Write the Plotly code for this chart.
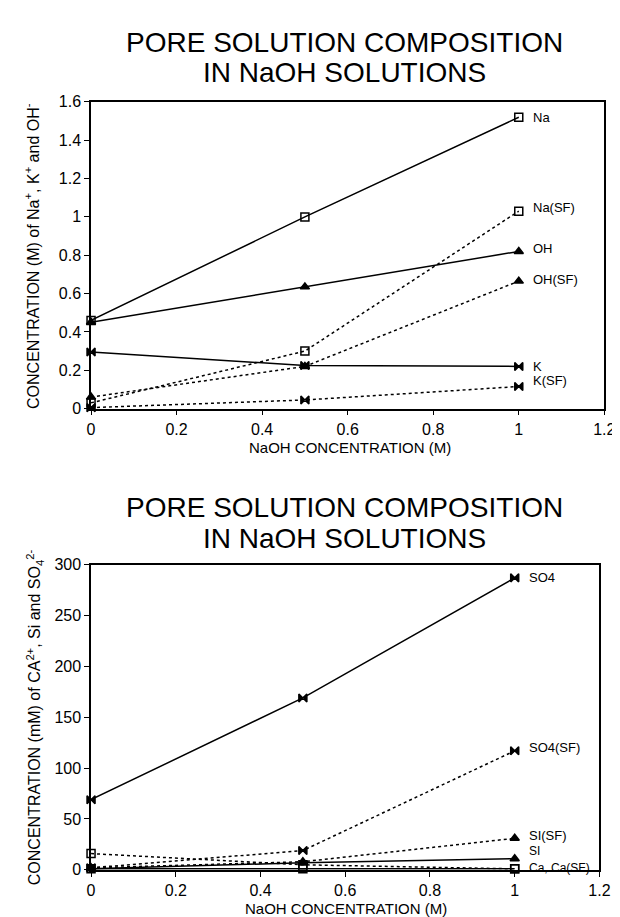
import plotly.graph_objects as go

# ---------------- data ----------------
naoh = [0, 0.5, 1]

# top chart (M)
na = [0.46, 1.00, 1.52]
na_sf = [0.03, 0.30, 1.03]
oh = [0.45, 0.635, 0.82]
oh_sf = [0.06, 0.22, 0.665]
k = [0.295, 0.225, 0.22]
k_sf = [0.005, 0.045, 0.115]

# bottom chart (mM)
so4 = [69, 169, 287]
so4_sf = [2, 19, 117]
si_sf = [2, 8, 31]
si = [1, 7, 11]
ca_sf = [16, 5, 1]
ca = [1, 1, 1]

x_ticks = [0, 0.2, 0.4, 0.6, 0.8, 1, 1.2]
top_y_ticks = [0, 0.2, 0.4, 0.6, 0.8, 1, 1.2, 1.4, 1.6]
bot_y_ticks = [0, 50, 100, 150, 200, 250, 300]

W, H = 620, 917
FONT = "Liberation Sans, Arial, Helvetica, sans-serif"


def px_x(p):
    return p / W


def px_y(p):
    return 1 - p / H


fig = go.Figure()

SYM = {"sq": "square-open", "tri": "triangle-up", "bow": "bowtie"}


def add(xv, yv, sym, dash, xa, ya):
    fig.add_trace(go.Scatter(
        x=xv, y=yv, mode="lines+markers", xaxis=xa, yaxis=ya,
        line=dict(color="black", width=1.5, dash=dash),
        marker=dict(symbol=SYM[sym], size=8, color="black",
                    line=dict(color="black", width=1.5)),
        cliponaxis=False, showlegend=False, hoverinfo="x+y"))


# top
add(naoh, na, "sq", "solid", "x", "y")
add(naoh, na_sf, "sq", "dot", "x", "y")
add(naoh, oh, "tri", "solid", "x", "y")
add(naoh, oh_sf, "tri", "dot", "x", "y")
add(naoh, k, "bow", "solid", "x", "y")
add(naoh, k_sf, "bow", "dot", "x", "y")
# bottom
add(naoh, so4, "bow", "solid", "x2", "y2")
add(naoh, so4_sf, "bow", "dot", "x2", "y2")
add(naoh, si_sf, "tri", "dot", "x2", "y2")
add(naoh, si, "tri", "solid", "x2", "y2")
add(naoh, ca_sf, "sq", "dot", "x2", "y2")
add(naoh, ca, "sq", "solid", "x2", "y2")

axis_common = dict(showgrid=False, zeroline=False, showline=True, mirror=True,
                   linecolor="black", linewidth=1.5, ticks="outside",
                   ticklen=5, tickwidth=1.2, tickcolor="black",
                   tickfont=dict(family=FONT, size=16, color="black"),
                   fixedrange=True)

fig.update_layout(
    width=W, height=H, autosize=False,
    margin=dict(l=0, r=0, t=0, b=0),
    paper_bgcolor="white", plot_bgcolor="white",
    font=dict(family=FONT, color="black"),
    xaxis=dict(axis_common, domain=[px_x(81), px_x(607)], range=[0, 1.2],
               tickvals=x_ticks, anchor="y"),
    yaxis=dict(axis_common, domain=[px_y(400), px_y(87.5)], range=[0, 1.6],
               tickvals=top_y_ticks, anchor="x"),
    xaxis2=dict(axis_common, domain=[px_x(81), px_x(602)], range=[0, 1.2],
                tickvals=x_ticks, anchor="y2"),
    yaxis2=dict(axis_common, domain=[px_y(870), px_y(559)], range=[0, 300],
                tickvals=bot_y_ticks, anchor="x2"),
)

ann = []


def text(x, y, s, size, angle=0):
    ann.append(dict(x=px_x(x), y=px_y(y), xref="paper", yref="paper", text=s,
                    showarrow=False, textangle=angle, xanchor="center",
                    yanchor="middle", font=dict(family=FONT, size=size, color="black")))


# titles
text(341, 27, "PORE SOLUTION COMPOSITION", 28)
text(341, 58, "IN NaOH SOLUTIONS", 28)
text(341, 501, "PORE SOLUTION COMPOSITION", 28)
text(341, 532, "IN NaOH SOLUTIONS", 28)
# axis titles
text(346, 440, "NaOH CONCENTRATION (M)", 15)
text(342, 909, "NaOH CONCENTRATION (M)", 15)
text(21, 244, "CONCENTRATION (M) of Na<sup>+</sup>, K<sup>+</sup> and OH<sup>-</sup>", 16, -90)
text(23, 714, "CONCENTRATION (mM) of CA<sup>2+</sup>, Si and SO<sub>4</sub><sup>2-</sup>", 16, -90)


def label(xa, ya, yv, s, yshift, size=13):
    ann.append(dict(x=1, y=yv, xref=xa, yref=ya, text=s, showarrow=False,
                    xanchor="left", yanchor="middle", xshift=12, yshift=yshift,
                    font=dict(family=FONT, size=size, color="black")))


label("x", "y", na[-1], "Na", 0)
label("x", "y", na_sf[-1], "Na(SF)", 4)
label("x", "y", oh[-1], "OH", 3)
label("x", "y", oh_sf[-1], "OH(SF)", 2)
label("x", "y", k[-1], "K", 0)
label("x", "y", k_sf[-1], "K(SF)", 6)
label("x2", "y2", so4[-1], "SO4", 0)
label("x2", "y2", so4_sf[-1], "SO4(SF)", 3)
label("x2", "y2", si_sf[-1], "SI(SF)", 3)
label("x2", "y2", si[-1], "SI", 8, 12)
label("x2", "y2", ca[-1], "Ca, Ca(SF)", 1, 12)

fig.update_layout(annotations=ann)

fig.write_html("out.html")
